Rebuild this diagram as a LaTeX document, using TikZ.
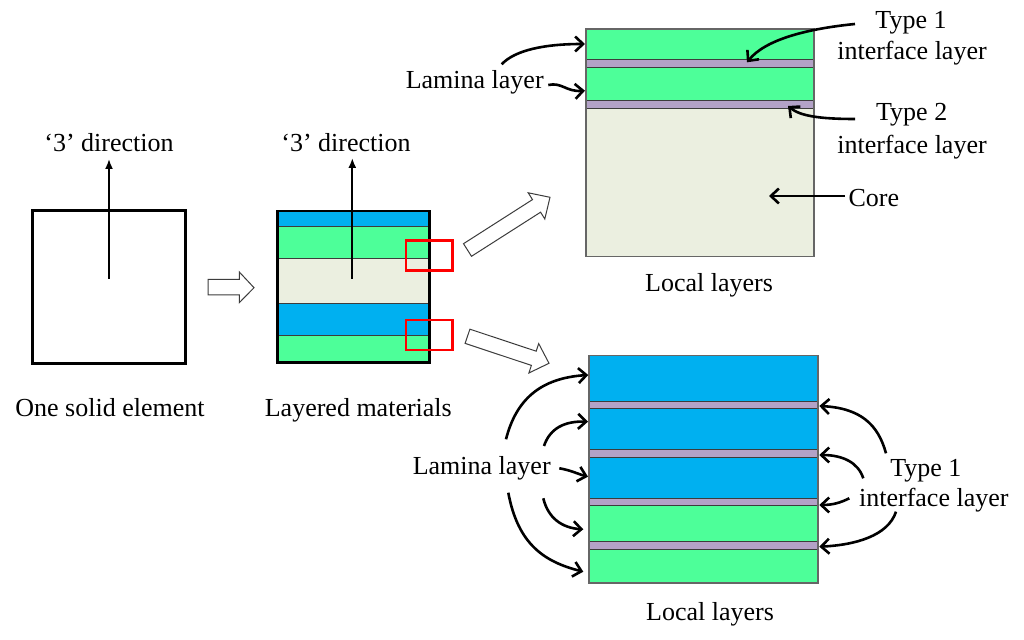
\documentclass[tikz,border=0pt]{standalone}
\usepackage{fontspec}
\setmainfont{Liberation Serif}
\usetikzlibrary{arrows.meta}
\definecolor{lgreen}{RGB}{77,255,153}
\definecolor{lblue}{RGB}{0,176,240}
\definecolor{lbeige}{RGB}{235,239,224}
\definecolor{lav}{RGB}{179,162,199}
\definecolor{edge}{RGB}{60,60,60}
\begin{document}
\begin{tikzpicture}[x=0.5pt,y=-0.5pt,
  font=\fontsize{13}{15}\selectfont,
  lbl/.style={inner sep=0pt, anchor=base},
  callout/.style={line width=1.3pt, -{Straight Barb[length=4pt,width=7.5pt]}},
  dirarrow/.style={line width=0.9pt, -{Latex[length=5pt,width=4pt]}},
  hollow/.style={draw=edge, line width=0.5pt, fill=white, line join=miter},
  layerline/.style={draw=edge, line width=0.5pt},
  redbox/.style={draw=red, line width=1.2pt}]
\useasboundingbox (0,0) rectangle (1024,640);
\fill[white] (0,0) rectangle (1024,640);

% ---------- one solid element ----------
\draw[line width=1.4pt] (32.7,210.7) rectangle (185.3,363.3);
\coordinate (s0) at (109,279);
\coordinate (s1) at (109,159);
\draw[dirarrow] (s0) -- (s1);
\node[lbl] (dir1) at (109,151.7) {‘3’ direction};
\node[lbl] (solid) at (110,417) {One solid element};

% small hollow arrow
\draw[hollow] (208,279.3) -- (239.3,279.3) -- (239.3,272) -- (254,287.7) -- (239.3,302.7) -- (239.3,295) -- (208,295) -- cycle;

% ---------- layered materials ----------
\fill[lblue]  (277.3,211)   rectangle (429.3,226.3);
\fill[lgreen] (277.3,226.3) rectangle (429.3,258.7);
\fill[lbeige] (277.3,258.7) rectangle (429.3,304);
\fill[lblue]  (277.3,304)   rectangle (429.3,335.7);
\fill[lgreen] (277.3,335.7) rectangle (429.3,362.7);
\foreach \yy in {226.3,258.7,304,335.7}
  \draw[layerline] (277.3,\yy) -- (429.3,\yy);
\draw[line width=1.4pt] (277.3,211) rectangle (429.3,362.7);
\coordinate (m0) at (352.3,279);
\coordinate (m1) at (352.3,158);
\draw[dirarrow] (m0) -- (m1);
\node[lbl] (dir2) at (346,151.7) {‘3’ direction};
\node[lbl] (layered) at (358.3,417) {Layered materials};
\draw[redbox] (405.7,240.7) rectangle (452.3,270.7);
\draw[redbox] (405.7,320) rectangle (452.3,350);

% diagonal hollow arrows
\draw[hollow] (463.5,243.7) -- (532.5,199.6) -- (528.2,192.8) -- (550,197.3) -- (544.8,219.0) -- (540.6,212.2) -- (471.5,256.3) -- cycle;
\draw[hollow] (469.9,329.2) -- (536.2,351.2) -- (538.7,343.6) -- (549,363.3) -- (528.9,373.0) -- (531.4,365.4) -- (465.1,343.4) -- cycle;

% ---------- top local layers ----------
\fill[lgreen] (585.7,29)    rectangle (813.7,59.3);
\fill[lav]    (585.7,59.3)  rectangle (813.7,67.3);
\fill[lgreen] (585.7,67.3)  rectangle (813.7,100.7);
\fill[lav]    (585.7,100.7) rectangle (813.7,108.7);
\fill[lbeige] (585.7,108.7) rectangle (813.7,256.7);
\foreach \yy in {59.3,67.3,100.7,108.7}
  \draw[layerline] (585.7,\yy) -- (813.7,\yy);
\draw[draw=gray!80!black, line width=0.8pt] (585.7,29) rectangle (813.7,256.7);
\node[lbl] (loc1) at (709,291.7) {Local layers};

\node[lbl] (lamA) at (474.7,88.3) {Lamina layer};
\coordinate (lamA1) at (501.7,64.3);
\coordinate (lamA2) at (548.3,85);
\coordinate (tA1) at (585,44);
\coordinate (tA2) at (585,90.7);
\draw[callout] (lamA1) .. controls (515,50) and (545,44) .. (tA1);
\draw[callout] (lamA2) .. controls (562,82) and (566,92) .. (tA2);

\node[lbl] (ty1a) at (911,28.3) {Type 1};
\node[lbl] (if1a) at (912,60) {interface layer};
\coordinate (ty1s) at (855,24);
\coordinate (ty1e) at (747,62.3);
\draw[callout] (ty1s) .. controls (805,29) and (765,40) .. (ty1e);

\node[lbl] (ty2a) at (911.7,120.7) {Type 2};
\node[lbl] (if2a) at (912,153.3) {interface layer};
\coordinate (ty2s) at (855,119);
\coordinate (ty2e) at (788,106);
\draw[callout] (ty2s) .. controls (820,119) and (800,116) .. (ty2e);

\node[lbl] (core) at (873.8,206.7) {Core};
\coordinate (cores) at (845,196);
\coordinate (coree) at (769,196);
\draw[callout] (cores) -- (coree);

% ---------- bottom local layers ----------
\fill[lblue]  (589,355.7) rectangle (817.7,401.7);
\fill[lav]    (589,401.7) rectangle (817.7,409);
\fill[lblue]  (589,409)   rectangle (817.7,449.7);
\fill[lav]    (589,449.7) rectangle (817.7,458);
\fill[lblue]  (589,458)   rectangle (817.7,498.3);
\fill[lav]    (589,498.3) rectangle (817.7,506);
\fill[lgreen] (589,506)   rectangle (817.7,542);
\fill[lav]    (589,542)   rectangle (817.7,549.7);
\fill[lgreen] (589,549.7) rectangle (817.7,583);
\foreach \yy in {401.7,409,449.7,458,498.3,506,542,549.7}
  \draw[layerline] (589,\yy) -- (817.7,\yy);
\draw[draw=gray!80!black, line width=0.8pt] (589,355.7) rectangle (817.7,583);
\node[lbl] (loc2) at (710,621) {Local layers};

\node[lbl] (lamB) at (481.7,475) {Lamina layer};
\coordinate (lb1s) at (506,439.3);   \coordinate (lb1e) at (588.3,375);
\coordinate (lb2s) at (544,446);     \coordinate (lb2e) at (588,421.7);
\coordinate (lb3s) at (559.3,468.3); \coordinate (lb3e) at (588,476.7);
\coordinate (lb4s) at (543.3,498.3); \coordinate (lb4e) at (583.3,529.3);
\coordinate (lb5s) at (508.3,492.7); \coordinate (lb5e) at (583.3,571.7);
\draw[callout] (lb1s) .. controls (516,400) and (540,378) .. (lb1e);
\draw[callout] (lb2s) .. controls (550,428) and (565,421) .. (lb2e);
\draw[callout] (lb3s) .. controls (570,470) and (578,474) .. (lb3e);
\draw[callout] (lb4s) .. controls (548,518) and (562,528) .. (lb4e);
\draw[callout] (lb5s) .. controls (518,545) and (545,562) .. (lb5e);

\node[lbl] (ty1b) at (925.8,476.7) {Type 1};
\node[lbl] (if1b) at (933.8,506.7) {interface layer};
\coordinate (rb1s) at (886,453.3);   \coordinate (rb1e) at (819.3,406);
\coordinate (rb2s) at (863.3,478.3); \coordinate (rb2e) at (819.3,455);
\coordinate (rb3s) at (849.3,498.3); \coordinate (rb3e) at (819.3,505);
\coordinate (rb4s) at (896,511.7);   \coordinate (rb4e) at (819.3,546.7);
\draw[callout] (rb1s) .. controls (878,424) and (860,408) .. (rb1e);
\draw[callout] (rb2s) .. controls (858,462) and (842,455) .. (rb2e);
\draw[callout] (rb3s) .. controls (840,503) and (832,505) .. (rb3e);
\draw[callout] (rb4s) .. controls (888,536) and (855,545) .. (rb4e);
\end{tikzpicture}
\end{document}
